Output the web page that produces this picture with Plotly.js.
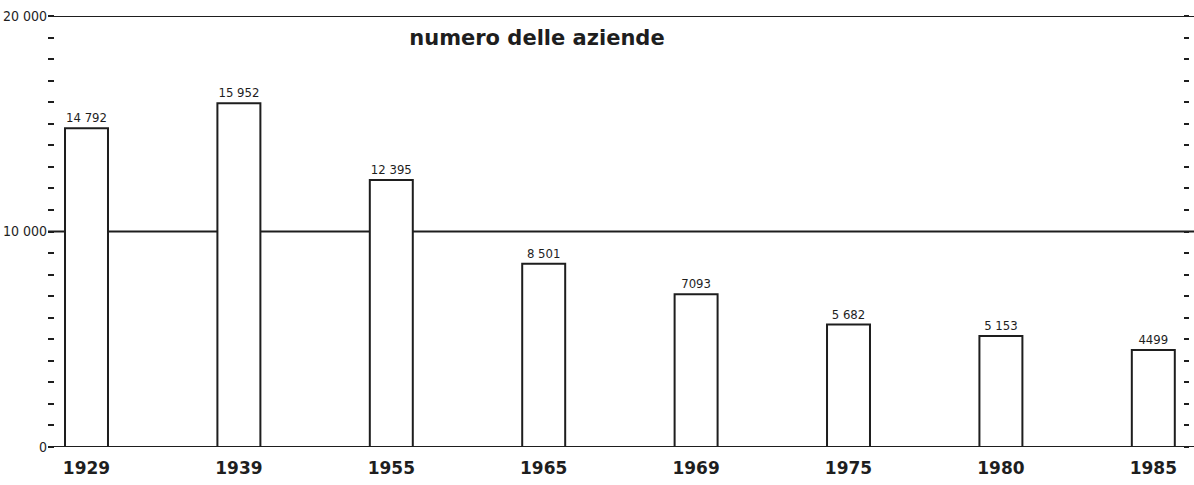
<!DOCTYPE html>
<html><head><meta charset="utf-8">
<script src="https://cdn.plot.ly/plotly-3.0.1.min.js"></script>
<style>html,body{margin:0;padding:0;background:#fff}#chart{width:1194px;height:485px}</style>
</head><body><div id="chart"></div>
<script>
const years = ['1929','1939','1955','1965','1969','1975','1980','1985'];
const aziende = [14792, 15952, 12395, 8501, 7093, 5682, 5153, 4499];
const valueLabels = ['14 792','15 952','12 395','8 501','7093','5 682','5 153','4499'];
const yTickVals = [0, 10000, 20000];
const yTickText = ['0', '10 000', '20 000'];
const chartTitle = 'numero delle aziende';

const pos = years.map((_, i) => i);
const ink = '#1e1e1e';

const trace = {
  type: 'bar', x: pos, y: aziende, width: 0.282,
  marker: {color: '#ffffff', line: {color: ink, width: 2}},
  text: valueLabels, textposition: 'outside', cliponaxis: false,
  textfont: {family: 'Liberation Sans Narrow, DejaVu Sans Condensed, sans-serif', size: 13, color: ink},
  hoverinfo: 'skip', showlegend: false
};
const ghost = {type:'scatter', x:[0], y:[0], yaxis:'y2', mode:'markers', marker:{opacity:0}, hoverinfo:'skip', showlegend:false};

const hline = v => ({type:'line', xref:'paper', x0:0, x1:1, yref:'y', y0:v, y1:v, line:{color:ink, width:2}, layer:'below'});

const layout = {
  width: 1194, height: 485,
  margin: {l: 48, r: 0, t: 16, b: 38},
  paper_bgcolor: '#fff', plot_bgcolor: '#fff',
  showlegend: false,
  title: {text: chartTitle, xref: 'container', x: 0.4497, xanchor: 'center', y: 0.922, yanchor: 'middle',
          font: {family: 'DejaVu Sans, sans-serif', size: 21, color: ink, weight: 'bold'}},
  xaxis: {type: 'linear', range: [-0.2526, 7.267], tickvals: pos, ticktext: years,
          showgrid: false, zeroline: false, showline: false, ticks: 'outside', ticklen: 6, tickcolor: 'rgba(0,0,0,0)',
          tickfont: {family: 'DejaVu Sans, sans-serif', size: 17, color: ink, weight: 'bold'}, fixedrange: true},
  yaxis: {range: [0, 20000], tickvals: yTickVals, ticktext: yTickText, showgrid: false, zeroline: false, showline: false,
          ticks: '', ticklen: 0,
          minor: {dtick: 1000, ticks: 'inside', ticklen: 6, tickwidth: 2, tickcolor: ink, showgrid: false},
          tickfont: {family: 'DejaVu Sans Condensed, Liberation Sans Narrow, sans-serif', size: 14, color: ink},
          fixedrange: true},
  yaxis2: {range: [0, 20000], overlaying: 'y', side: 'right', anchor: 'free', position: 0.9904,
           showgrid: false, zeroline: false, showline: false, showticklabels: false,
           tickvals: yTickVals, ticks: '',
           minor: {dtick: 1000, ticks: 'outside', ticklen: 5, tickwidth: 2, tickcolor: ink, showgrid: false},
           fixedrange: true},
  shapes: [hline(0), hline(10000), hline(20000)]
};
Plotly.newPlot('chart', [trace, ghost], layout, {displayModeBar: false, staticPlot: true});
</script></body></html>
